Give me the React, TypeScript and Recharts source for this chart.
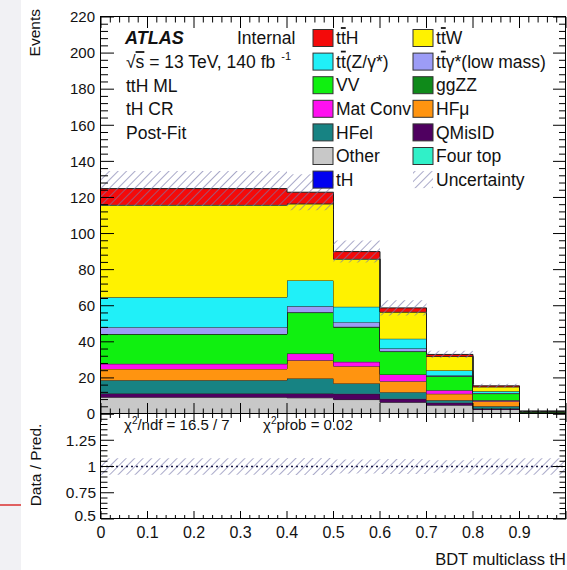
import React from "react";
import { ComposedChart, Area, XAxis, YAxis, ReferenceLine } from "recharts";

const W = 567;
const H = 570;
const PLOT_L = 101;
const PLOT_R = 566;
const MAIN_T = 17;
const MAIN_B = 414;
const RATIO_B = 519;
const FONT = "'Liberation Sans', Arial, Helvetica, sans-serif";

// bin edges of the BDT score; bins are [edge_i, edge_i+1)
const binEdges = [0, 0.4, 0.5, 0.6, 0.7, 0.8, 0.9, 1.0];

// post-fit yields per bin, stacked bottom to top in this order
const tH = [0.3, 0.3, 0.3, 0.2, 0.1, 0.1, 0.05];
const other = [9.0, 8.7, 7.7, 6.3, 4.8, 2.4, 0.5];
const qMisID = [2.1, 2.4, 3.2, 1.9, 1.3, 0.5, 0.1];
const hfEl = [7.3, 8.3, 5.7, 3.7, 1.4, 1.3, 0.1];
const hfMu = [6.3, 10.1, 9.6, 6.1, 3.6, 2.8, 0.2];
const matConv = [2.8, 3.7, 2.4, 3.7, 2.0, 0.5, 0.05];
const vv = [16.4, 22.7, 19.2, 12.7, 7.6, 3.7, 0.3];
const ggZZ = [0.2, 0.2, 0.2, 0.2, 0.1, 0.1, 0.02];
const ttGamma = [3.7, 3.3, 2.6, 1.5, 0.4, 0.3, 0.03];
const ttZ = [16.6, 14.3, 8.5, 5.4, 2.8, 0.9, 0.05];
const ttW = [51.0, 42.4, 26.4, 14.8, 7.8, 2.5, 0.1];
const fourTop = [0.2, 0.3, 0.2, 0.1, 0.1, 0.0, 0.0];
const ttH = [9.0, 6.2, 4.0, 2.2, 1.0, 0.5, 0.05];

// total systematic uncertainty on the prediction
const totalUnc = [9.7, 10.0, 6.1, 4.2, 2.0, 1.2, 0.12];

const eventLabels = [0, 20, 40, 60, 80, 100, 120, 140, 160, 180, 200, 220];
const ratioLabels = [0.5, 0.75, 1, 1.25, 1.5];
const xLabels = [0, 0.1, 0.2, 0.3, 0.4, 0.5, 0.6, 0.7, 0.8, 0.9, 1.0];

// "{t}" marks an anti-quark bar
const samples = [
  { key: "tH", values: tH, color: "#0000f0", label: "tH" },
  { key: "other", values: other, color: "#c8c8c8", label: "Other" },
  { key: "qMisID", values: qMisID, color: "#4f0060", label: "QMisID" },
  { key: "hfEl", values: hfEl, color: "#178383", label: "HFel" },
  { key: "hfMu", values: hfMu, color: "#ff9410", label: "HFμ" },
  { key: "matConv", values: matConv, color: "#ff10f0", label: "Mat Conv" },
  { key: "vv", values: vv, color: "#10f010", label: "VV" },
  { key: "ggZZ", values: ggZZ, color: "#0f8a1a", label: "ggZZ" },
  { key: "ttGamma", values: ttGamma, color: "#9c9cf6", label: "t{t}γ*(low mass)" },
  { key: "ttZ", values: ttZ, color: "#20f0f8", label: "t{t}(Z/γ*)" },
  { key: "ttW", values: ttW, color: "#fff200", label: "t{t}W" },
  { key: "fourTop", values: fourTop, color: "#30f0c8", label: "Four top" },
  { key: "ttH", values: ttH, color: "#f40a0a", label: "t{t}H" },
];

const legendLeft = ["ttH", "ttZ", "vv", "matConv", "hfEl", "other", "tH"];
const legendRight = ["ttW", "ttGamma", "ggZZ", "hfMu", "qMisID", "fourTop", "unc"];

const nBins = binEdges.length - 1;
const rows = binEdges.map((x, i) => {
  const b = Math.min(i, nBins - 1);
  const row: any = { x };
  let total = 0;
  samples.forEach((s) => {
    row[s.key] = s.values[b];
    total += s.values[b];
  });
  row.total = total;
  row.unc = totalUnc[b];
  return row;
});

const subdivide = (majors: number[], n: number) => {
  const out: number[] = [];
  for (let i = 0; i < majors.length - 1; i++) {
    const step = (majors[i + 1] - majors[i]) / n;
    for (let k = 0; k < n; k++) out.push(+(majors[i] + k * step).toFixed(4));
  }
  out.push(majors[majors.length - 1]);
  return out;
};

const eventTicks = subdivide(eventLabels, 5);
const ratioTicks = subdivide(ratioLabels, 5);
const xTicks = subdivide(xLabels, 5);

const isMajor = (list: number[], v: number) => list.some((m) => Math.abs(m - v) < 1e-6);

const renderLabel = (label: string) =>
  label.split(/(\{[^}]*\})/).map((part, i) =>
    part.startsWith("{") ? (
      <tspan key={i} style={{ textDecoration: "overline" }}>
        {part.slice(1, -1)}
      </tspan>
    ) : (
      <tspan key={i}>{part}</tspan>
    )
  );

// ROOT-style inward ticks, mirrored on the right edge
const MainYTick = (props: any) => {
  const { x, y, payload } = props;
  const major = isMajor(eventLabels, payload.value);
  const len = major ? 13 : 7;
  return (
    <g>
      <line x1={x} x2={x + len} y1={y} y2={y} stroke="#000" strokeWidth={1} />
      <line x1={PLOT_R} x2={PLOT_R - len} y1={y} y2={y} stroke="#000" strokeWidth={1} />
      {major && (
        <text x={x - 6} y={y} dy="0.35em" textAnchor="end" fontSize={15} fontFamily={FONT} fill="#111">
          {payload.value}
        </text>
      )}
    </g>
  );
};

const MainXTick = (props: any) => {
  const { x, y, payload } = props;
  const major = isMajor(xLabels, payload.value);
  const len = major ? 11 : 5.5;
  return (
    <g>
      <line x1={x} x2={x} y1={y} y2={y - len} stroke="#000" strokeWidth={1} />
      <line x1={x} x2={x} y1={MAIN_T} y2={MAIN_T + len} stroke="#000" strokeWidth={1} />
    </g>
  );
};

const RatioYTick = (props: any) => {
  const { x, y, payload } = props;
  const v = payload.value;
  const major = isMajor(ratioLabels, v);
  const len = major ? 13 : 6.5;
  return (
    <g>
      <line x1={x} x2={x + len} y1={y} y2={y} stroke="#000" strokeWidth={1} />
      <line x1={PLOT_R} x2={PLOT_R - len} y1={y} y2={y} stroke="#000" strokeWidth={1} />
      {major && v < 1.5 && (
        <text x={x - 5} y={v === 0.5 ? y - 3 : y} dy="0.35em" textAnchor="end" fontSize={15.5} fontFamily={FONT} fill="#111">
          {v}
        </text>
      )}
    </g>
  );
};

const RatioXTick = (props: any) => {
  const { x, y, payload } = props;
  const v = payload.value;
  const major = isMajor(xLabels, v);
  const len = major ? 8 : 4;
  return (
    <g>
      <line x1={x} x2={x} y1={y} y2={y - len} stroke="#000" strokeWidth={1} />
      <line x1={x} x2={x} y1={0} y2={len} stroke="#000" strokeWidth={1} />
      {major && v < 1 && (
        <text x={x} y={y + 13} dy="0.35em" textAnchor="middle" fontSize={16} fontFamily={FONT} fill="#111">
          {v}
        </text>
      )}
    </g>
  );
};

const LegendItem = ({ id, x, y }: { id: string; x: number; y: number }) => {
  if (id === "unc") {
    return (
      <g>
        <rect x={x} y={y - 8.5} width={20} height={17} fill="url(#uncHatch)" />
        <text x={x + 23} y={y} dy="0.35em" fontSize={17.5} fontFamily={FONT} fill="#111">
          Uncertainty
        </text>
      </g>
    );
  }
  const s = samples.find((d) => d.key === id)!;
  return (
    <g>
      <rect x={x} y={y - 8.5} width={20} height={17} fill={s.color} stroke="#333" strokeWidth={1} />
      <text x={x + 23} y={y} dy="0.35em" fontSize={17.5} fontFamily={FONT} fill="#111">
        {renderLabel(s.label)}
      </text>
    </g>
  );
};

export default function App() {
  const rowY = (i: number) => 38 + i * 23.6;
  const mainPad = 16;
  return (
    <div style={{ position: "absolute", left: 0, top: 0, width: W, height: H, background: "#fff", overflow: "hidden" }}>
      {/* slide margin on the left */}
      <div style={{ position: "absolute", left: 0, top: 0, width: 21, height: H, background: "#f1f1f4" }} />
      <div style={{ position: "absolute", left: 0, top: 504, width: 21, height: 1.5, background: "#e06060" }} />

      <div style={{ position: "absolute", left: 0, top: MAIN_B }}>
        <ComposedChart
          width={W}
          height={H - MAIN_B}
          data={rows}
          margin={{ top: 0, right: W - PLOT_R, bottom: 0, left: 0 }}
        >
          <XAxis
            dataKey="x"
            type="number"
            domain={[0, 1]}
            ticks={xTicks}
            interval={0}
            height={H - RATIO_B}
            tickSize={0}
            tickMargin={0}
            axisLine={false}
            tickLine={false}
            tick={(p: any) => <RatioXTick {...p} />}
            allowDataOverflow
          />
          <YAxis
            type="number"
            domain={[0.5, 1.5]}
            ticks={ratioTicks}
            interval={0}
            width={PLOT_L}
            tickSize={0}
            tickMargin={0}
            axisLine={false}
            tickLine={false}
            tick={(p: any) => <RatioYTick {...p} />}
            allowDataOverflow
          />
          <Area
            dataKey={(d: any) => [1 - d.unc / d.total, 1 + d.unc / d.total]}
            type="stepAfter"
            fill="url(#uncHatch)"
            fillOpacity={1}
            stroke="none"
            isAnimationActive={false}
          />
          <ReferenceLine y={1} stroke="#1c1c48" strokeWidth={1.5} strokeDasharray="2 3" />
        </ComposedChart>
      </div>

      <div style={{ position: "absolute", left: 0, top: 0 }}>
        <ComposedChart
          width={W}
          height={MAIN_B + mainPad}
          data={rows}
          margin={{ top: MAIN_T, right: W - PLOT_R, bottom: 0, left: 0 }}
        >
          <XAxis
            dataKey="x"
            type="number"
            domain={[0, 1]}
            ticks={xTicks}
            interval={0}
            height={mainPad}
            tickSize={0}
            tickMargin={0}
            axisLine={false}
            tickLine={false}
            tick={(p: any) => <MainXTick {...p} />}
            allowDataOverflow
          />
          <YAxis
            type="number"
            domain={[0, 220]}
            ticks={eventTicks}
            interval={0}
            width={PLOT_L}
            tickSize={0}
            tickMargin={0}
            axisLine={false}
            tickLine={false}
            tick={(p: any) => <MainYTick {...p} />}
            allowDataOverflow
          />
          {samples.map((s) => (
            <Area
              key={s.key}
              dataKey={s.key}
              stackId="stack"
              type="stepAfter"
              fill={s.color}
              fillOpacity={1}
              stroke="#1e1e1e"
              strokeWidth={1}
              isAnimationActive={false}
            />
          ))}
          <Area
            dataKey={(d: any) => [d.total - d.unc, d.total + d.unc]}
            type="stepAfter"
            fill="url(#uncHatch)"
            fillOpacity={1}
            stroke="none"
            isAnimationActive={false}
          />
        </ComposedChart>
      </div>

      <svg width={W} height={H} style={{ position: "absolute", left: 0, top: 0, pointerEvents: "none" }}>
        <defs>
          <pattern id="uncHatch" patternUnits="userSpaceOnUse" width="6" height="6" patternTransform="rotate(45)">
            <line x1="0" y1="0" x2="0" y2="6" stroke="#7a7aac" strokeWidth="1.3" />
          </pattern>
        </defs>

        <rect x={PLOT_L - 0.5} y={MAIN_T - 0.5} width={PLOT_R - PLOT_L} height={MAIN_B - MAIN_T} fill="none" stroke="#000" strokeWidth={1} />
        <rect x={PLOT_L - 0.5} y={MAIN_B - 0.5} width={PLOT_R - PLOT_L} height={RATIO_B - MAIN_B} fill="none" stroke="#000" strokeWidth={1} />

        <g fontFamily={FONT} fill="#111">
          <text x={125} y={37.5} dy="0.35em" fontSize={18} fontWeight="bold" fontStyle="italic">ATLAS</text>
          <text x={237} y={37.5} dy="0.35em" fontSize={17.5}>Internal</text>
          <text x={126} y={62} dy="0.35em" fontSize={17.5}>
            √<tspan style={{ textDecoration: "overline" }}>s</tspan> = 13 TeV, 140 fb
            <tspan dx={6} dy={-8} fontSize={11}>-1</tspan>
          </text>
          <text x={126} y={85.5} dy="0.35em" fontSize={17.5}>ttH ML</text>
          <text x={126} y={109} dy="0.35em" fontSize={17.5}>tH CR</text>
          <text x={126} y={132.5} dy="0.35em" fontSize={17.5}>Post-Fit</text>

          <text x={124} y={425} dy="0.35em" fontSize={15}>
            χ<tspan dy={-6} fontSize={10}>2</tspan>
            <tspan dy={6}>/ndf = 16.5 / 7</tspan>
          </text>
          <text x={263} y={425} dy="0.35em" fontSize={15}>
            χ<tspan dy={-6} fontSize={10}>2</tspan>
            <tspan dy={6}>prob = 0.02</tspan>
          </text>

          <text x={40} y={9} fontSize={15.5} textAnchor="end" transform="rotate(-90 40 9)">Events</text>
          <text x={41} y={465} fontSize={15.5} textAnchor="middle" transform="rotate(-90 41 465)">Data / Pred.</text>
          <text x={566} y={559} dy="0.35em" fontSize={16.5} textAnchor="end">BDT multiclass tH</text>
        </g>

        {legendLeft.map((id, i) => (
          <LegendItem key={id} id={id} x={313} y={rowY(i)} />
        ))}
        {legendRight.map((id, i) => (
          <LegendItem key={id} id={id} x={413} y={rowY(i)} />
        ))}
      </svg>
    </div>
  );
}
